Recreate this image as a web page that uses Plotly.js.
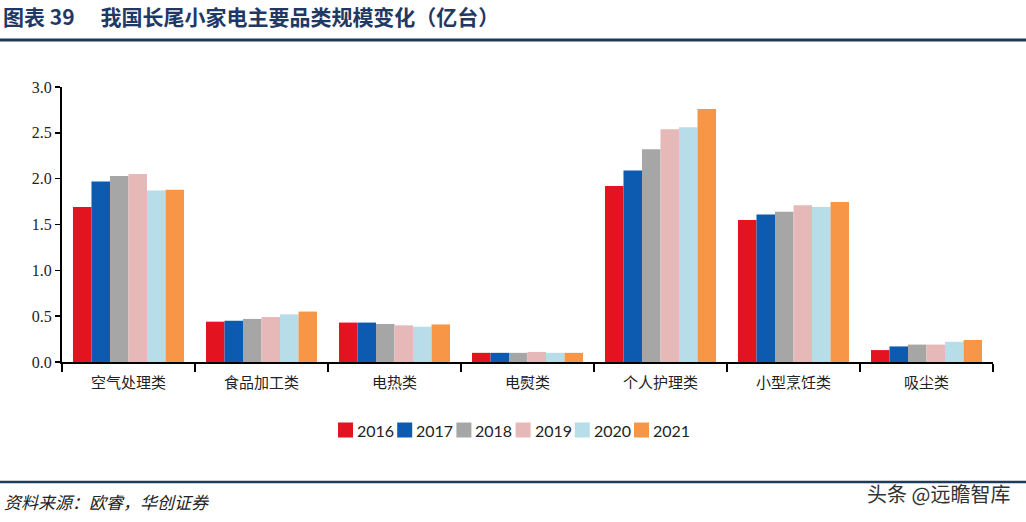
<!DOCTYPE html>
<html>
<head>
<meta charset="utf-8">
<script src="https://cdn.plot.ly/plotly-3.0.1.min.js"></script>
<style>html,body{margin:0;padding:0;background:#fff}#chart{width:1026px;height:522px}</style>
</head>
<body>
<div id="chart"></div>
<script>
const categories = ["空气处理类", "食品加工类", "电热类", "电熨类", "个人护理类", "小型烹饪类", "吸尘类"];
const years = ["2016", "2017", "2018", "2019", "2020", "2021"];
const v2016 = [1.69, 0.44, 0.43, 0.10, 1.92, 1.55, 0.13];
const v2017 = [1.97, 0.45, 0.43, 0.10, 2.09, 1.61, 0.17];
const v2018 = [2.03, 0.47, 0.415, 0.10, 2.32, 1.64, 0.19];
const v2019 = [2.05, 0.49, 0.40, 0.11, 2.54, 1.71, 0.19];
const v2020 = [1.87, 0.52, 0.385, 0.10, 2.56, 1.69, 0.22];
const v2021 = [1.88, 0.55, 0.41, 0.10, 2.76, 1.745, 0.24];
const yTickVals = [0, 0.5, 1.0, 1.5, 2.0, 2.5, 3.0];
const yTickText = ["0.0", "0.5", "1.0", "1.5", "2.0", "2.5", "3.0"];
const seriesValues = [v2016, v2017, v2018, v2019, v2020, v2021];
const colors = ["#e3141f", "#0c5bb0", "#a6a6a6", "#e6b9b8", "#b7dde8", "#f79646"];

const traces = years.map((y, i) => ({
  type: "bar", name: y, x: categories, y: seriesValues[i],
  marker: {color: colors[i]}, hoverinfo: "skip"
}));

const L = 62, R = 993, T = 87, B = 362;
const pw = R - L, ph = B - T;
const px = x => (x - L) / pw;
const py = y => (B - y) / ph;

const shapes = [
  {type: "line", xref: "paper", yref: "paper", x0: px(0), x1: px(1026), y0: py(40), y1: py(40),
    line: {color: "#1f3a5a", width: 3}},
  {type: "line", xref: "paper", yref: "paper", x0: px(0), x1: px(1026), y0: py(482), y1: py(482),
    line: {color: "#1f3a5a", width: 2.5}}
];
const annotations = [
  {text: "<i>资料来源：欧睿，华创证券</i>", xref: "paper", yref: "paper", x: px(2), y: py(501),
    xanchor: "left", yanchor: "middle", showarrow: false,
    font: {family: "'Noto Sans CJK SC', sans-serif", size: 17, color: "#222"}},
  {text: "头条 @远瞻智库", xref: "paper", yref: "paper", x: px(1012), y: py(493),
    xanchor: "right", yanchor: "middle", showarrow: false,
    font: {family: "'Noto Sans CJK SC', sans-serif", size: 20, color: "#333"}}
];

// custom compact legend
const legX0 = 338, legStep = 59.2, legY = 430, sq = 15;
years.forEach((y, i) => {
  const x = legX0 + legStep * i;
  shapes.push({type: "rect", xref: "paper", yref: "paper",
    x0: px(x), x1: px(x + sq), y0: py(legY + sq / 2), y1: py(legY - sq / 2),
    fillcolor: colors[i], line: {width: 0}});
  annotations.push({text: y, xref: "paper", yref: "paper", x: px(x + sq + 2), y: py(legY),
    xanchor: "left", yanchor: "middle", showarrow: false,
    font: {family: "Lato, 'Open Sans', sans-serif", size: 16, color: "#222"}});
});

const layout = {
  width: 1026, height: 522,
  margin: {l: L, r: 1026 - R, t: T, b: 522 - B},
  paper_bgcolor: "#ffffff", plot_bgcolor: "#ffffff",
  barmode: "group", bargap: 0.165, bargroupgap: 0,
  showlegend: false,
  title: {text: "<b>图表 39　 我国长尾小家电主要品类规模变化（亿台）</b>", x: 0.003, xanchor: "left", xref: "container",
    y: 1 - 18/522, yanchor: "middle", yref: "container",
    font: {family: "'Noto Sans CJK SC', sans-serif", size: 21, color: "#1f3864"}},
  xaxis: {type: "category", tickson: "boundaries", ticks: "outside", ticklen: 8, tickwidth: 1.5, tickcolor: "#000",
    showline: true, linecolor: "#000", linewidth: 2, showgrid: false, zeroline: false, ticklabelstandoff: 6,
    tickfont: {family: "'Noto Sans CJK SC', sans-serif", size: 15, color: "#222"}},
  yaxis: {range: [0, 3.0], tickvals: yTickVals, ticktext: yTickText, ticks: "outside", ticklen: 5, tickwidth: 1.5,
    tickcolor: "#000", showline: true, linecolor: "#000", linewidth: 2, showgrid: false, zeroline: false,
    tickfont: {family: "'Liberation Serif', serif", size: 16, color: "#222"}},
  shapes: shapes,
  annotations: annotations
};

Plotly.newPlot("chart", traces, layout, {displayModeBar: false, staticPlot: true});
</script>
</body>
</html>
